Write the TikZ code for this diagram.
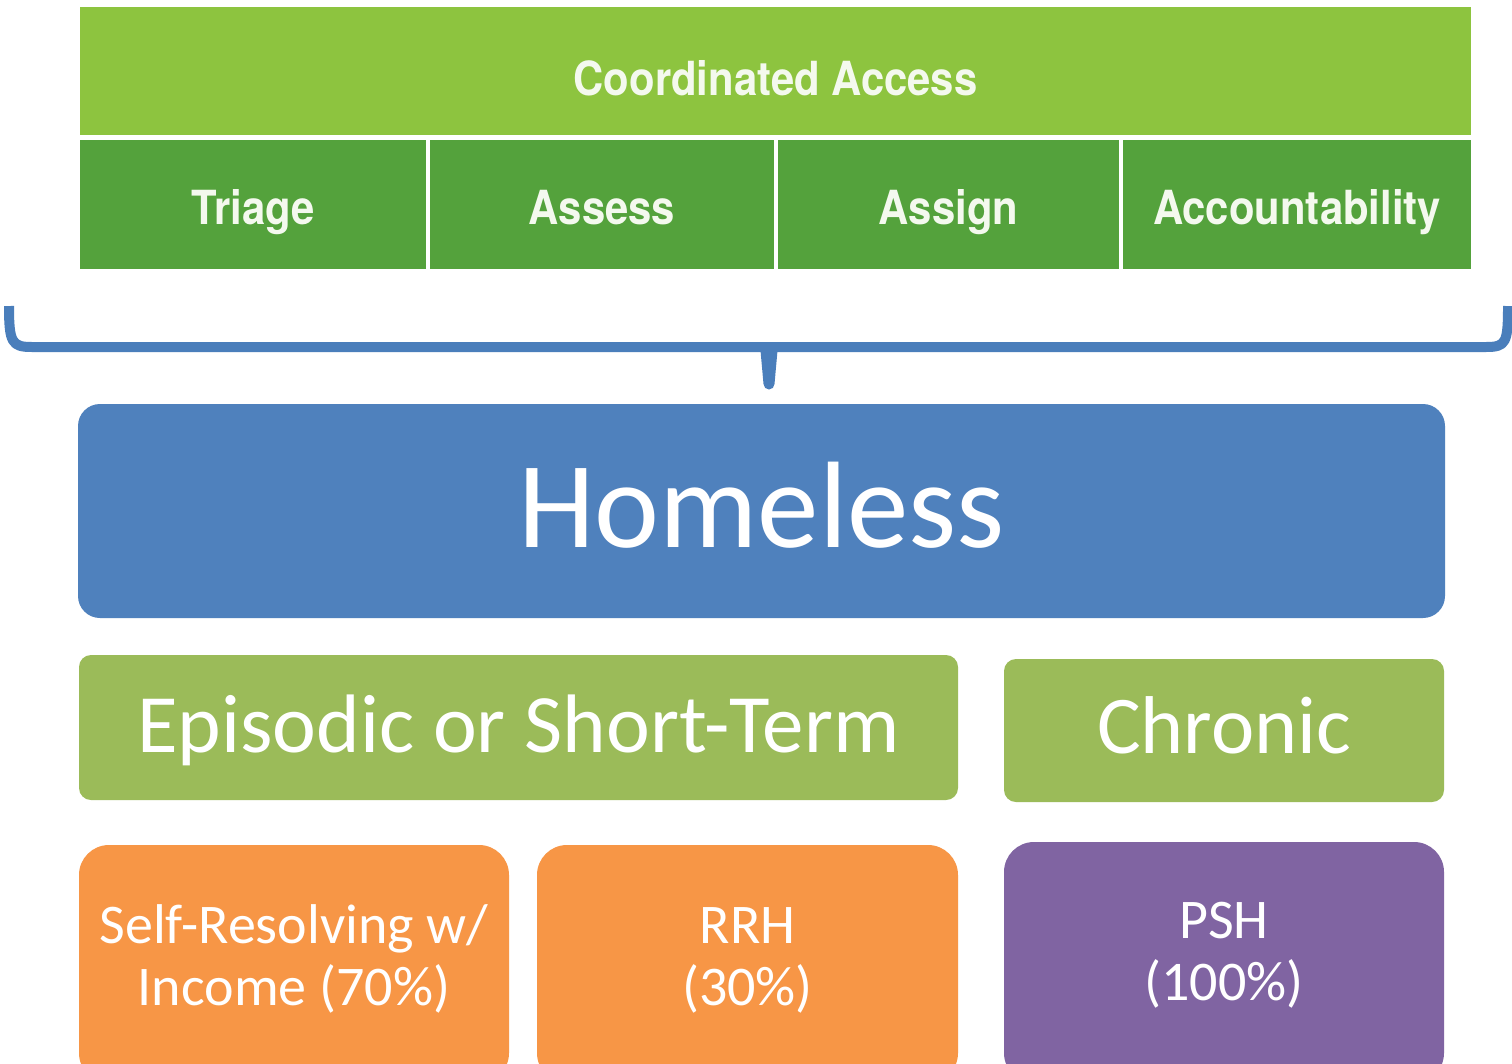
\documentclass[tikz,border=0pt]{standalone}
\usepackage{fontspec}
\setmainfont{Carlito}
\newfontfamily\hdrfont[FakeStretch=0.89]{TeX Gyre Heros}
\definecolor{calight}{HTML}{8DC43F}
\definecolor{cadark}{HTML}{54A23C}
\definecolor{hdrtext}{HTML}{F4F9EE}
\definecolor{bracecol}{HTML}{4A7EBB}
\definecolor{homecol}{HTML}{4F81BD}
\definecolor{typecol}{HTML}{9BBB59}
\definecolor{orangecol}{HTML}{F79646}
\definecolor{purplecol}{HTML}{8064A2}
\begin{document}
\begin{tikzpicture}[x=1pt,y=-1pt,
  hdrbase/.style={inner sep=0pt, text=hdrtext, text depth=0pt,
    font=\hdrfont\bfseries\fontsize{47}{50}\selectfont},
  hdrtop/.style={hdrbase, fill=calight, text height=48pt},
  hdrcell/.style={hdrbase, fill=cadark, minimum height=129pt, text height=40pt},
  homebox/.style={fill=homecol, rounded corners=22pt, inner sep=0pt, text=white,
    font=\fontsize{123}{130}\selectfont, text height=72pt, text depth=0pt},
  typebox/.style={fill=typecol, rounded corners=12pt, inner sep=0pt, text=white,
    text depth=0pt},
  progbox/.style={rounded corners=30pt, inner sep=0pt, text=white,
    font=\fontsize{56}{62}\selectfont, text height=0pt},
  brace/.style={draw=bracecol, line width=10pt, line join=round}
]
\useasboundingbox (0,0) rectangle (1512,1063);
\clip (0,0) rectangle (1512,1063);
\fill[white] (0,0) rectangle (1512,1063);

% Coordinated Access header
\node[hdrtop, minimum width=1391pt, minimum height=128pt] (ca) at (775.5,71) {Coordinated Access};
\node[hdrcell, minimum width=346pt] (tri) at (253,204.5) {Triage};
\node[hdrcell, minimum width=344pt] (ass) at (602,204.5) {Assess};
\node[hdrcell, minimum width=341pt] (asg) at (948.5,204.5) {Assign};
\node[hdrcell, minimum width=348pt] (acc) at (1297,204.5) {Accountability};

% brace
\draw[brace] (9,306) .. controls (9,343) and (12,347) .. (32,347) -- (1486,347)
  .. controls (1506,347) and (1508,343) .. (1508,306);
\fill[bracecol] (760,345) -- (778,345) -- (774.5,384) arc[start angle=0,end angle=180,radius=5.5] -- cycle;

% Homeless
\node[homebox, minimum width=1367pt, minimum height=214pt] (hl) at (761.5,511) {Homeless};

% types
\node[typebox, font=\fontsize{83}{90}\selectfont, minimum width=879pt, minimum height=145pt, text height=49pt] (epi) at (518.5,727.5) {Episodic or Short-Term};
\node[typebox, font=\fontsize{82}{90}\selectfont, minimum width=440pt, minimum height=143pt, text height=45pt] (chr) at (1224,730.5) {Chronic};

% programs
\node[progbox, fill=orangecol, minimum width=430pt, minimum height=238pt, text depth=42pt] (sr) at (294,964)
  {\begin{tabular}[t]{@{}c@{}}Self-Resolving w/\\Income (70\%)\end{tabular}};
\node[progbox, fill=orangecol, minimum width=421pt, minimum height=238pt, text depth=42pt] (rrh) at (747.5,964)
  {\begin{tabular}[t]{@{}c@{}}RRH\\(30\%)\end{tabular}};
\node[progbox, fill=purplecol, minimum width=440pt, minimum height=241pt, text depth=49pt] (psh) at (1224,962.5)
  {\begin{tabular}[t]{@{}c@{}}PSH\\(100\%)\end{tabular}};
\end{tikzpicture}
\end{document}
